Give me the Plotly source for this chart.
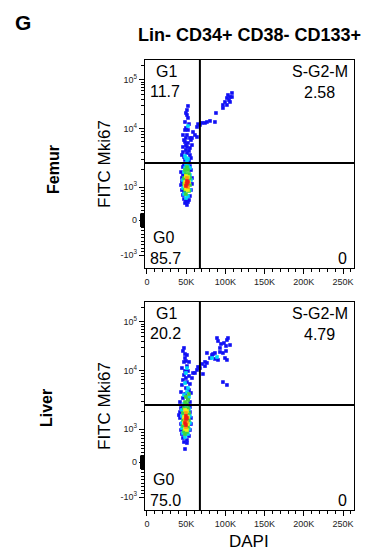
import numpy as np
import plotly.graph_objects as go

# ---------------- data (DAPI in thousands, FITC Mki67 in fluorescence units) ----------------
# Femur
femur_blue_x = [51.0, 51.0, 52.3, 48.5, 49.7, 48.5, 52.3, 45.9, 51.0, 49.7, 54.8, 48.5, 52.3, 45.9, 51.0, 54.8,
                49.7, 53.6, 44.6, 51.0, 54.8, 47.2, 56.1, 48.5, 53.6, 57.4, 56.1, 47.2, 49.7, 52.3, 49.7, 53.6, 45.9,
                57.4, 58.7, 61.2, 63.8, 63.8, 65.1, 67.6, 70.2, 74.0, 76.5, 80.4, 86.7, 88.0, 96.9, 96.9, 99.5,
                102.0, 102.0, 103.3, 105.9, 105.9, 108.4, 108.4, 104.6,
                43.4, 44.6, 43.4, 44.6, 45.9, 47.2, 48.5, 51.0, 49.7, 53.6, 54.8, 56.1, 57.4, 57.4, 56.1, 54.8,
                45.9, 47.2, 52.3, 44.6, 45.9, 52.3, 47.2]
femur_blue_y = [24400, 19300, 16800, 13900, 10500, 9610, 9610, 7880, 7880, 7000, 7000, 5970, 5740, 4900, 4900, 4700,
                4340, 4180, 3560, 3850, 3560, 3290, 3160, 2920, 2810, 5290, 6450, 6450, 5290, 29500, 21200, 12600, 4010,
                7000, 8880, 7880, 7280, 11000, 12600, 12100, 13300, 13300, 13900, 14600, 13900, 21200, 26800, 30900, 35600,
                42900, 30900, 49400, 45000, 35600, 54300, 45000, 39000,
                1810, 1430, 1080, 909, 758, 636, 515, 455, 576, 606, 727, 909, 1130, 1430, 1960, 2300,
                2210, 2390, 2490, 1220, 1610, 545, 848]
femur_cyan_x = [49.7, 52.3, 51.0, 49.7, 52.3, 48.5, 54.8, 47.2, 54.8, 45.9, 56.1, 45.9, 54.8, 47.2, 52.3, 49.7, 52.3, 48.5]
femur_cyan_y = [3160, 3040, 2810, 2490, 2300, 2130, 2130, 1810, 1610, 1320, 1320, 970, 909, 788, 727, 667, 11500, 3420]
femur_green_x = [48.5, 52.3, 49.7, 53.6, 47.2, 54.8, 47.2, 54.8, 48.5, 53.6, 49.7, 51.0]
femur_green_y = [1960, 1960, 1680, 1680, 1430, 1430, 1130, 1080, 909, 879, 788, 2210]
femur_yellow_x = [49.7, 52.3, 48.5, 53.6, 49.7, 52.3, 48.5]
femur_yellow_y = [1550, 1490, 1220, 1220, 939, 909, 1040]
femur_orange_x = [51.0, 49.7, 52.3]
femur_orange_y = [1430, 1130, 1000]
femur_red_x = [51.0, 51.0, 49.7, 52.3]
femur_red_y = [1270, 1130, 1040, 1220]

# Liver
liver_blue_x = [45.9, 48.5, 48.5, 49.7, 51.0, 48.5, 52.3, 44.6, 47.2, 53.6, 45.9, 51.0, 54.8, 44.6, 49.7, 53.6,
                43.4, 48.5, 56.1, 45.9, 52.3, 42.1, 54.8, 49.7, 47.2, 53.6, 51.0, 47.2,
                57.4, 58.7, 63.8, 65.1, 67.6, 70.2, 74.0, 74.0, 76.5, 76.5, 80.4, 84.2, 86.7, 90.6, 89.3, 90.6,
                93.1, 94.4, 98.2, 100.8, 100.8, 96.9, 93.1, 102.0, 103.3, 105.9, 99.5, 102.0, 96.9, 102.0, 71.4,
                61.2, 82.9, 86.7,
                43.4, 42.1, 42.1, 43.4, 43.4, 44.6, 45.9, 47.2, 48.5, 51.0, 53.6, 54.8, 56.1, 56.1, 54.8, 54.8,
                45.9, 51.0, 40.8]
liver_blue_y = [25600, 22200, 18400, 16000, 12600, 10000, 10000, 11500, 8530, 8200, 7000, 6450, 5970, 5740, 5090, 4700,
                4340, 4010, 4180, 3420, 3290, 2920, 2920, 7570, 15300, 15300, 21200, 29500,
                7570, 9240, 10500, 12100, 11500, 13900, 12600, 15300, 14600, 23300, 18400, 22200, 17600, 16800, 47100, 40900,
                29500, 35600, 37200, 32400, 25600, 23300, 24400, 42900, 47100, 33900, 18400, 16800, 6450, 5740, 8880,
                9240, 21200, 23300,
                2300, 1960, 1550, 1220, 970, 848, 727, 606, 394, 667, 788, 970, 1220, 1550, 1960, 2390,
                2490, 576, 1740]
liver_cyan_x = [51.0, 48.5, 49.7, 52.3, 82.9, 89.3, 51.0, 47.2, 53.6,
                44.6, 53.6, 44.6, 54.8, 44.6, 54.8, 44.6, 53.6, 45.9, 52.3, 48.5, 49.7, 47.2]
liver_cyan_y = [11500, 6210, 9240, 5090, 18400, 19300, 4340, 3850, 3560,
                2130, 2210, 1680, 1680, 1270, 1270, 1040, 1000, 879, 848, 758, 2490, 2700]
liver_green_x = [49.7, 52.3, 48.5, 51.0, 53.6,
                 47.2, 52.3, 45.9, 53.6, 45.9, 53.6, 45.9, 52.3, 47.2, 51.0, 48.5]
liver_green_y = [3560, 3160, 2920, 2700, 4010,
                 2300, 2300, 1890, 1890, 1430, 1430, 1130, 1080, 939, 909, 848]
liver_yellow_x = [48.5, 51.0, 47.2, 52.3, 47.2, 52.3, 48.5, 51.0]
liver_yellow_y = [2130, 2040, 1610, 1610, 1270, 1220, 1000, 970]
liver_orange_x = [49.7, 48.5, 51.0, 49.7]
liver_orange_y = [1890, 1430, 1320, 1080]
liver_red_x = [49.7, 49.7, 48.5, 49.7, 51.0]
liver_red_y = [1680, 1490, 1270, 1170, 1550]

# gates and quadrant frequencies
dapi_gate = 67.5
mki67_gate = 2600
quadrant_names = ["G1", "S-G2-M", "G0"]
femur_pct = ["11.7", "2.58", "85.7", "0"]
liver_pct = ["20.2", "4.79", "75.0", "0"]
tissues = ["Femur", "Liver"]

x_ticks = [0, 50, 100, 150, 200, 250]
x_ticklabels = ["0", "50K", "100K", "150K", "200K", "250K"]
y_ticks = [-1000, 0, 1000, 10000, 100000]
y_ticklabels = ["-10<sup>3</sup>", "0", "10<sup>3</sup>", "10<sup>4</sup>", "10<sup>5</sup>"]


# ---------------- biexponential-like display transform ----------------
def biex(v):
    v = np.asarray(v, dtype=float)
    pos = np.maximum(v, 1e-9)
    lin_neg = 1 + v / 1000.0
    lin_pos = 1 + 0.9429 * v / 1000.0
    dec1 = 1.9429 + 1.6571 * np.log10(pos / 1000.0)
    dec2 = 3.6 + 1.4 * np.log10(pos / 1e4)
    return np.where(v <= 0, lin_neg, np.where(v <= 1000, lin_pos, np.where(v <= 1e4, dec1, dec2)))


y_minor = (list(range(-900, 0, 100)) + list(range(100, 1000, 100)) +
           list(range(2000, 10000, 1000)) + list(range(20000, 100000, 10000)) + [200000])
x_minor = [v for v in range(0, 261, 10) if v % 50 != 0]

W, H = 366, 554
FONT = "Arial, Liberation Sans, sans-serif"
colors = {"blue": "#1010f5", "cyan": "#00d8f5", "green": "#3ed43e",
          "yellow": "#f2ef10", "orange": "#ff9a10", "red": "#ee1a1a"}

fig = go.Figure()

panels = [
    dict(xa="x", ya="y", data=[(femur_blue_x, femur_blue_y, "blue"), (femur_cyan_x, femur_cyan_y, "cyan"),
                               (femur_green_x, femur_green_y, "green"), (femur_yellow_x, femur_yellow_y, "yellow"),
                               (femur_orange_x, femur_orange_y, "orange"), (femur_red_x, femur_red_y, "red")],
         pct=femur_pct, top=60, bottom=268),
    dict(xa="x2", ya="y2", data=[(liver_blue_x, liver_blue_y, "blue"), (liver_cyan_x, liver_cyan_y, "cyan"),
                                 (liver_green_x, liver_green_y, "green"), (liver_yellow_x, liver_yellow_y, "yellow"),
                                 (liver_orange_x, liver_orange_y, "orange"), (liver_red_x, liver_red_y, "red")],
         pct=liver_pct, top=302, bottom=510),
]


def ann(text, px, py, size, bold=False, angle=0):
    fig.add_annotation(text=("<b>%s</b>" % text) if bold else text, xref="paper", yref="paper",
                       x=px / W, y=1 - py / H, xanchor="center", yanchor="middle", textangle=angle,
                       showarrow=False, font=dict(family=FONT, size=size, color="black"))


x_dom = [145 / W, 354 / W]
for i, p in enumerate(panels):
    for xs, ys, c in p["data"]:
        fig.add_trace(go.Scatter(x=xs, y=biex(ys), mode="markers", xaxis=p["xa"], yaxis=p["ya"],
                                 marker=dict(symbol="square", size=3.6, color=colors[c], line=dict(width=0)),
                                 hoverinfo="skip", showlegend=False))
    suffix = "" if i == 0 else "2"
    ax_common = dict(showline=True, linecolor="black", linewidth=1.3, mirror=True, ticks="outside",
                     ticklen=5, tickwidth=1.3, tickcolor="black", showgrid=False, zeroline=False,
                     tickfont=dict(family=FONT, size=9, color="#222"))
    fig.update_layout(**{
        "xaxis" + suffix: dict(domain=x_dom, range=[-2.5, 264], anchor="y" + suffix,
                               tickvals=x_ticks, ticktext=x_ticklabels,
                               minor=dict(tickvals=x_minor, ticklen=3, tickwidth=1, tickcolor="black",
                                          ticks="outside", showgrid=False),
                               **ax_common),
        "yaxis" + suffix: dict(domain=[1 - p["bottom"] / H, 1 - p["top"] / H], range=[-0.371, 5.571],
                               anchor="x" + suffix, tickvals=list(biex(y_ticks)), ticktext=y_ticklabels,
                               minor=dict(tickvals=list(biex(y_minor)), ticklen=3, tickwidth=1,
                                          tickcolor="black", ticks="outside", showgrid=False),
                               **ax_common),
    })
    xr, yr = "x" + suffix, "y" + suffix
    # quadrant gates
    fig.add_shape(type="line", xref=xr, yref=yr + " domain", x0=dapi_gate, x1=dapi_gate, y0=0, y1=1,
                  line=dict(color="black", width=2))
    g = float(biex(mki67_gate))
    fig.add_shape(type="line", xref=xr + " domain", yref=yr, x0=0, x1=1, y0=g, y1=g,
                  line=dict(color="black", width=2))
    # dense tick block around 0
    fig.add_shape(type="rect", xref="paper", yref=yr, x0=140 / W, x1=145 / W,
                  y0=float(biex(-200)), y1=float(biex(200)), fillcolor="black", line=dict(width=0))
    # quadrant labels
    qfont = dict(family=FONT, size=16, color="black")
    labels = [(quadrant_names[0], 0.105, 0.945), (p["pct"][0], 0.096, 0.847),
              (quadrant_names[1], 0.837, 0.945), (p["pct"][1], 0.837, 0.845),
              (quadrant_names[2], 0.090, 0.148), (p["pct"][2], 0.096, 0.047),
              (p["pct"][3], 0.947, 0.047)]
    for t, xd, yd in labels:
        fig.add_annotation(text=t, xref=xr + " domain", yref=yr + " domain", x=xd, y=yd,
                           xanchor="center", yanchor="middle", showarrow=False, font=qfont)
    # y axis title
    ann("FITC Mki67", 104, (p["top"] + p["bottom"]) / 2, 17, angle=-90)

# tissue labels
ann(tissues[0], 54, 170, 16, bold=True, angle=-90)
ann(tissues[1], 46, 408, 16, bold=True, angle=-90)
# x axis title
ann("DAPI", 249, 541, 17)
# panel letter and title
ann("G", 23, 22, 21, bold=True)
ann("Lin- CD34+ CD38- CD133+", 249, 35, 18, bold=True)

fig.update_layout(width=W, height=H, margin=dict(l=0, r=0, t=0, b=0), plot_bgcolor="white",
                  paper_bgcolor="white", showlegend=False)

fig.write_html("out.html", config={"displayModeBar": False},
               post_script="document.body.style.margin='0px';")
